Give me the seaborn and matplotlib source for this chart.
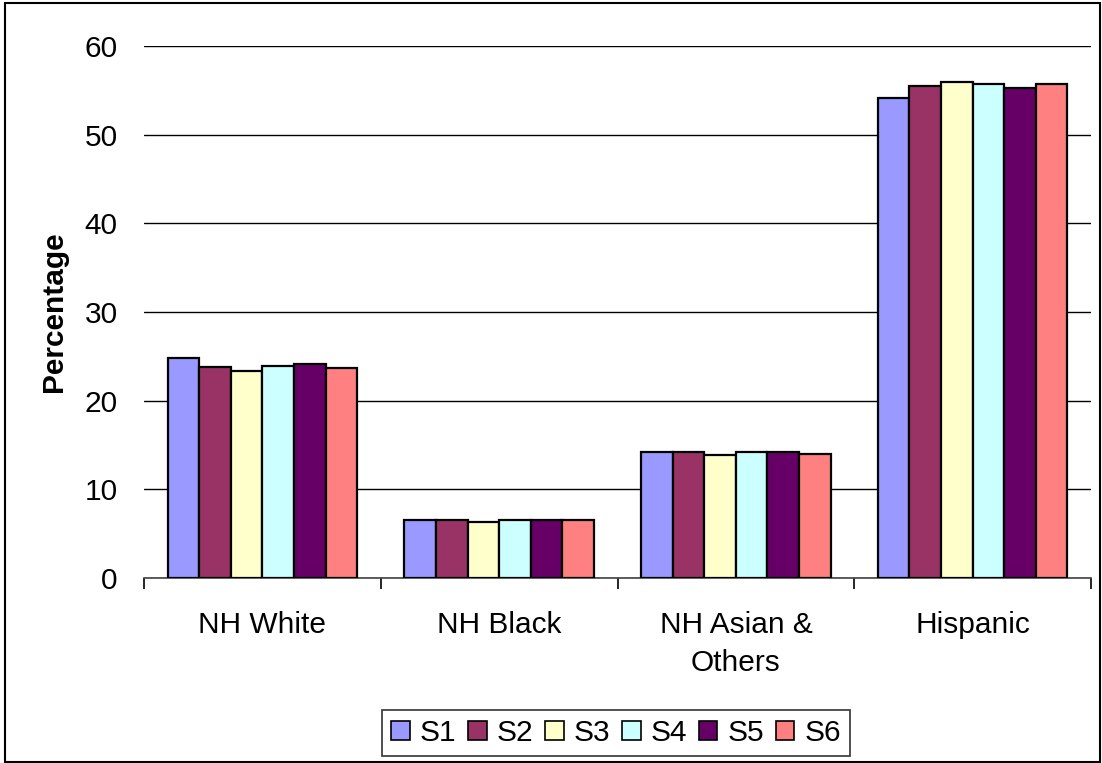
import matplotlib
matplotlib.use("Agg")
import matplotlib.pyplot as plt
import matplotlib.patches as mpatches
import seaborn as sns
import pandas as pd
import numpy as np

categories = ["NH White", "NH Black", "NH Asian &\nOthers", "Hispanic"]
series = ["S1", "S2", "S3", "S4", "S5", "S6"]
s1 = [24.8, 6.5, 14.2, 54.1]
s2 = [23.8, 6.5, 14.2, 55.5]
s3 = [23.4, 6.3, 13.9, 55.9]
s4 = [23.9, 6.5, 14.2, 55.7]
s5 = [24.1, 6.5, 14.2, 55.3]
s6 = [23.7, 6.5, 14.0, 55.7]
colors = ["#9999FF", "#993366", "#FFFFCC", "#CCFFFF", "#660066", "#FF8080"]
yticks = [0, 10, 20, 30, 40, 50, 60]

values = [s1, s2, s3, s4, s5, s6]
rows = []
for s, vals in zip(series, values):
    for c, v in zip(categories, vals):
        rows.append({"cat": c, "series": s, "val": v})
df = pd.DataFrame(rows)

sns.set_theme(style="white")
plt.rcParams["font.family"] = ["Liberation Sans", "DejaVu Sans"]
plt.rcParams["text.color"] = "black"
plt.rcParams["axes.labelcolor"] = "black"
plt.rcParams["xtick.color"] = "black"
plt.rcParams["ytick.color"] = "black"

FS = 21.5

fig = plt.figure(figsize=(11.02, 7.63), dpi=100)
ax = fig.add_axes([144/1102, 1-578/763, (1091-144)/1102, (578-46)/763])

sns.barplot(data=df, x="cat", y="val", hue="series", order=categories,
            hue_order=series, palette=colors, saturation=1, width=0.80,
            edgecolor="black", linewidth=1.6, ax=ax, legend=False, zorder=3)

ax.set_ylim(0, 60)
ax.set_xlim(-0.5, 3.5)
ax.set_yticks(yticks)
ax.set_yticklabels([str(t) for t in yticks], fontsize=FS)
ax.yaxis.grid(True, color="black", linewidth=1.0, zorder=0)
ax.set_axisbelow(True)
ax.tick_params(axis="y", length=0, pad=19)
ax.set_xticks(range(len(categories)))
ax.set_xticklabels(categories, fontsize=FS, linespacing=1.45)
ax.set_xticks([-0.5, 0.5, 1.5, 2.5, 3.5], minor=True)
ax.tick_params(axis="x", which="major", length=0, pad=24)
ax.tick_params(axis="x", which="minor", length=8, width=1.2, color="black", direction="out", bottom=True)
ax.set_xlabel("")
ax.set_ylabel("Percentage", fontsize=FS, fontweight="bold", labelpad=12)

for side in ["left", "right", "top"]:
    ax.spines[side].set_visible(False)
ax.spines["bottom"].set_color("#444444")
ax.spines["bottom"].set_linewidth(1.2)

handles = [mpatches.Patch(facecolor=c, edgecolor="black", linewidth=1.2) for c in colors]
leg = fig.legend(handles, series, loc="center", bbox_to_anchor=(616/1102, 1-733/763),
                 ncol=6, fontsize=FS, frameon=True, fancybox=False,
                 handlelength=0.62, handleheight=0.62, handletextpad=0.33,
                 columnspacing=0.4, borderpad=0.3)
leg.get_frame().set_edgecolor("black")
leg.get_frame().set_linewidth(1.2)

fig.patches.append(mpatches.Rectangle((5/1102, 1/763), (1100-5)/1102, (761-2)/763,
                                      transform=fig.transFigure, fill=False,
                                      edgecolor="black", linewidth=1.5))

fig.savefig("out.png", dpi=100)
